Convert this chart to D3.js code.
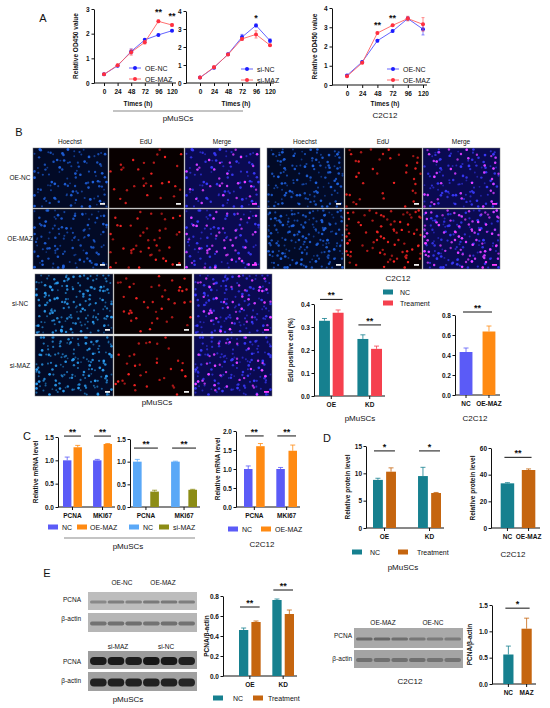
<!DOCTYPE html>
<html>
<head>
<meta charset="utf-8">
<script src="https://cdn.jsdelivr.net/npm/d3@7"></script>
<style>
  body { margin: 0; background: #fff; }
  svg { display: block; font-family: "Liberation Sans", Arial, sans-serif; }
  .axis .tick text { font-size: 6.5px; font-weight: bold; fill: #111; }
  .axis path, .axis line { stroke: #111; stroke-width: 1; }
</style>
</head>
<body>
<script>
// ---- data ----
const TIMES = [0, 24, 48, 72, 96, 120];

// A: CCK-8 growth curves
const A1_OE_NC      = [0.35, 0.70, 1.28, 1.75, 1.95, 2.12];
const A1_OE_NC_ERR  = [0.03, 0.04, 0.10, 0.05, 0.03, 0.03];
const A1_OE_MAZ     = [0.35, 0.72, 1.25, 1.65, 2.50, 2.35];
const A1_OE_MAZ_ERR = [0.03, 0.04, 0.12, 0.07, 0.05, 0.05];
const A2_SI_NC      = [0.30, 0.85, 1.60, 2.55, 3.20, 2.35];
const A2_SI_NC_ERR  = [0.03, 0.05, 0.05, 0.15, 0.08, 0.10];
const A2_SI_MAZ     = [0.30, 0.88, 1.58, 2.45, 2.70, 2.10];
const A2_SI_MAZ_ERR = [0.03, 0.08, 0.05, 0.06, 0.20, 0.05];
const A3_OE_NC      = [0.50, 1.20, 2.30, 2.80, 3.45, 2.90];
const A3_OE_NC_ERR  = [0.03, 0.04, 0.06, 0.05, 0.10, 0.30];
const A3_OE_MAZ     = [0.45, 1.15, 2.70, 3.10, 3.45, 3.15];
const A3_OE_MAZ_ERR = [0.03, 0.04, 0.05, 0.05, 0.12, 0.35];

// B: EdU imaging (cell counts per tile) and quantification
const B_PM_ROWS   = ["OE-NC", "OE-MAZ", "si-NC", "si-MAZ"];
const B_PM_NUC    = [110, 120, 170, 165];
const B_PM_EDU    = [30, 45, 42, 34];
const B_C2_NUC    = [140, 175];
const B_C2_EDU    = [38, 85];
const B_CHANNELS  = ["Hoechst", "EdU", "Merge"];
const B1_GROUPS   = ["OE", "KD"];
const B1_NC       = [0.327, 0.248];
const B1_NC_ERR   = [0.010, 0.018];
const B1_TRT      = [0.362, 0.205];
const B1_TRT_ERR  = [0.012, 0.012];
const B2_GROUPS   = ["NC", "OE-MAZ"];
const B2_VALUES   = [0.43, 0.635];
const B2_ERR      = [0.04, 0.055];

// C: qPCR
const C_GENES     = ["PCNA", "MKI67"];
const C1_NC       = [1.00, 1.00];
const C1_NC_ERR   = [0.07, 0.02];
const C1_OE       = [1.28, 1.35];
const C1_OE_ERR   = [0.04, 0.01];
const C2_NC       = [1.00, 1.00];
const C2_NC_ERR   = [0.05, 0.01];
const C2_SI       = [0.34, 0.38];
const C2_SI_ERR   = [0.03, 0.01];
const C3_NC       = [1.00, 1.00];
const C3_NC_ERR   = [0.08, 0.04];
const C3_OE       = [1.60, 1.48];
const C3_OE_ERR   = [0.07, 0.15];

// D: protein level
const D1_GROUPS   = ["OE", "KD"];
const D1_NC       = [8.8, 9.5];
const D1_NC_ERR   = [0.3, 1.6];
const D1_TRT      = [10.3, 6.4];
const D1_TRT_ERR  = [0.7, 0.1];
const D2_GROUPS   = ["NC", "OE-MAZ"];
const D2_VALUES   = [33.5, 43.5];
const D2_ERR      = [0.5, 0.8];

// E: western blots (band intensity per lane) and quantification
const E_PM_TOP_LANES   = ["OE-NC", "OE-MAZ"];
const E_PM_BOT_LANES   = ["si-MAZ", "si-NC"];
const E_C2_LANES       = ["OE-MAZ", "OE-NC"];
const E_PM_TOP_PCNA    = [0.55, 0.65, 0.62, 0.70, 0.72, 0.66];
const E_PM_TOP_ACTIN   = [0.70, 0.72, 0.74, 0.70, 0.72, 0.70];
const E_PM_BOT_PCNA    = [0.95, 0.95, 0.92, 0.98, 0.96, 0.90];
const E_PM_BOT_ACTIN   = [0.95, 0.95, 0.95, 0.95, 0.95, 0.92];
const E_C2_PCNA        = [0.70, 0.72, 0.65, 0.55, 0.50, 0.50];
const E_C2_ACTIN       = [0.65, 0.65, 0.65, 0.68, 0.62, 0.62];
const E1_GROUPS   = ["OE", "KD"];
const E1_NC       = [0.46, 0.76];
const E1_NC_ERR   = [0.02, 0.01];
const E1_TRT      = [0.54, 0.62];
const E1_TRT_ERR  = [0.01, 0.04];
const E2_GROUPS   = ["NC", "MAZ"];
const E2_VALUES   = [0.56, 1.05];
const E2_ERR      = [0.16, 0.20];

// ---- colours ----
const BLUE = "#1c1cff", RED = "#ff2f3f";
const TEAL = "#16808f", TOMATO = "#f5404e", PERI = "#5b5bf7", ORANGE = "#ff8a12";
const SKY = "#5aa8f7", OLIVE = "#8c8c15", RUST = "#c5650f";

const svg = d3.select("body").append("svg")
  .attr("width", 550).attr("height", 708)
  .attr("viewBox", [0, 0, 550, 708]);

const txt = (x, y, s, o = {}) => svg.append("text")
  .attr("x", x).attr("y", y)
  .attr("text-anchor", o.anchor || "middle")
  .attr("font-size", o.size || 6.5)
  .attr("font-weight", o.bold ? "bold" : "normal")
  .attr("fill", "#111")
  .text(s);

const vtxt = (x, y, s) => svg.append("text")
  .attr("transform", `translate(${x},${y}) rotate(-90)`)
  .attr("text-anchor", "middle")
  .attr("font-size", 6.5)
  .attr("font-weight", "bold")
  .attr("fill", "#111")
  .text(s);

const hline = (x1, x2, y, color = "#111", w = 1) => svg.append("line")
  .attr("x1", x1).attr("x2", x2).attr("y1", y).attr("y2", y)
  .attr("stroke", color).attr("stroke-width", w);

// ---- line chart (panel A) ----
const lineChart = o => {
  const x = d3.scaleLinear().domain([0, 120]).range(o.xr);
  const y = d3.scaleLinear().domain([0, o.yMax]).range(o.yr);
  const g = svg.append("g");

  g.append("g").attr("class", "axis")
    .attr("transform", `translate(${o.axisX},0)`)
    .call(d3.axisLeft(y).ticks(o.yMax).tickFormat(d3.format("d"))
      .tickSize(2.5).tickPadding(2).tickSizeOuter(0));
  const xa = g.append("g").attr("class", "axis")
    .attr("transform", `translate(0,${o.yr[0]})`)
    .call(d3.axisBottom(x).tickValues(TIMES).tickSize(3).tickSizeOuter(0));
  xa.select(".domain").remove();
  xa.append("line").attr("x1", o.axisX).attr("x2", o.xr[1] + 4);

  o.series.forEach(s => {
    const pts = TIMES.map((t, i) => ({ t, v: s.values[i], e: s.errs[i] }));
    g.append("path").datum(pts)
      .attr("fill", "none").attr("stroke", s.line).attr("stroke-width", 0.9)
      .attr("d", d3.line().x(d => x(d.t)).y(d => y(d.v)));
    g.append("g").selectAll("path").data(pts).join("path")
      .attr("fill", "none").attr("stroke", s.line).attr("stroke-width", 0.7)
      .attr("d", d => `M${x(d.t) - 1.5},${y(d.v + d.e)}h3M${x(d.t)},${y(d.v + d.e)}V${y(d.v - d.e)}M${x(d.t) - 1.5},${y(d.v - d.e)}h3`);
    g.append("g").selectAll("circle").data(pts).join("circle")
      .attr("cx", d => x(d.t)).attr("cy", d => y(d.v)).attr("r", 2)
      .attr("fill", s.color);
  });

  o.series.forEach((s, i) => {
    const ly = o.legend.y + i * o.legend.dy;
    g.append("line").attr("x1", o.legend.x - 6).attr("x2", o.legend.x + 6)
      .attr("y1", ly).attr("y2", ly).attr("stroke", s.line).attr("stroke-width", 0.9);
    g.append("circle").attr("cx", o.legend.x).attr("cy", ly).attr("r", 2).attr("fill", s.color);
    txt(o.legend.x + 10, ly + 2.5, s.name, { anchor: "start", size: 7 });
  });

  o.sig.forEach(s => txt(x(s.t), y(s.v) + 3, s.text, { size: 9, bold: true }));
  txt(o.xlabel[0], o.xlabel[1], "Times (h)", { bold: true });
  if (o.ylabel) vtxt(o.ylabel, (o.yr[0] + o.yr[1]) / 2, "Relative OD450 value");
};

// ---- bar chart (panels B-E) ----
const barChart = o => {
  const y = d3.scaleLinear().domain([0, o.yMax]).range([o.y0, o.yTop]);
  const x = d3.scaleBand().domain(o.groups).range(o.xr).paddingInner(o.pad).paddingOuter(0);
  const sub = d3.scaleBand().domain(o.series.map(s => s.name))
    .range([0, x.bandwidth()]).paddingInner(o.subPad ?? 0.2);
  const g = svg.append("g");

  g.append("g").attr("class", "axis")
    .attr("transform", `translate(${o.axisX},0)`)
    .call(d3.axisLeft(y).tickValues(o.ticks).tickFormat(d3.format(o.fmt))
      .tickSize(2.5).tickPadding(1.5).tickSizeOuter(0));
  const xa = g.append("g").attr("class", "axis").attr("transform", `translate(0,${o.y0})`);
  xa.append("line").attr("x1", o.axisX).attr("x2", o.xr[1] + 3);
  o.groups.forEach(gr => {
    const cx = x(gr) + x.bandwidth() / 2;
    xa.append("line").attr("x1", cx).attr("x2", cx).attr("y1", 0).attr("y2", 3);
  });
  o.groups.forEach(gr => txt(x(gr) + x.bandwidth() / 2, o.y0 + 11, gr, { bold: true }));

  o.series.forEach(s => {
    const rows = o.groups.map((gr, i) => ({
      gr, v: s.values[i], e: s.errs[i],
      c: s.colors ? s.colors[i] : s.color
    }));
    const bx = d => x(d.gr) + sub(s.name);
    const bw = sub.bandwidth();
    g.append("g").selectAll("path").data(rows).join("path")
      .attr("fill", "none").attr("stroke", d => d.c).attr("stroke-width", 0.8)
      .attr("d", d => `M${bx(d) + bw / 2},${y(d.v)}V${y(d.v + d.e)}M${bx(d) + bw / 2 - 2.5},${y(d.v + d.e)}h5`);
    g.append("g").selectAll("rect").data(rows).join("rect")
      .attr("x", bx).attr("width", bw)
      .attr("y", d => y(d.v)).attr("height", d => o.y0 - y(d.v))
      .attr("fill", d => d.c);
  });

  o.sig.forEach(s => {
    let x1, x2;
    if (s.g1) {
      x1 = x(s.g0) + x.bandwidth() / 2 - 3;
      x2 = x(s.g1) + x.bandwidth() / 2 + 3;
    } else {
      x1 = x(s.g0) + 1;
      x2 = x(s.g0) + x.bandwidth() - 1;
    }
    hline(x1, x2, y(s.v));
    txt((x1 + x2) / 2, y(s.v) - 1, s.text, { size: 9, bold: true });
  });

  if (o.ylabel) vtxt(o.ylabel[0], (o.y0 + o.yTop) / 2 + (o.ylabel[2] || 0), o.ylabel[1]);
  if (o.legend) o.legend.forEach((p, i) => {
    const s = o.series[i];
    svg.append("rect").attr("x", p[0]).attr("y", p[1] - 2.5).attr("width", 10).attr("height", 5)
      .attr("fill", s.color);
    txt(p[0] + p[2], p[1] + 2.5, s.name, { anchor: "start", size: 7 });
  });
};

// ---- microscopy tiles (panel B) ----
// texture only: a low-discrepancy spread of nuclei with a hashed jitter
const R2X = 0.7548776662, R2Y = 0.5698402910;
const hash = (i, s) => { const v = Math.sin(i * 127.1 + s * 311.7) * 43758.5453; return v - Math.floor(v); };
const tile = (x0, y0, w, h, kind, nNuc, nEdu, seed, bright) => {
  const bg = { Hoechst: "#020a26", EdU: "#080000", Merge: "#0a0a52" }[kind];
  svg.append("rect").attr("x", x0).attr("y", y0).attr("width", w).attr("height", h)
    .attr("fill", bg).attr("stroke", "#777").attr("stroke-width", 0.5);
  const cell = Math.sqrt(w * h / nNuc);
  const nuc = d3.range(nNuc).map(i => ({
    i,
    px: Math.max(x0 + 1.5, Math.min(x0 + w - 1.5,
      x0 + w * ((seed * 0.37 + 0.5 + i * R2X) % 1) + (hash(i, seed) - 0.5) * cell * 1.4)),
    py: Math.max(y0 + 1.5, Math.min(y0 + h - 1.5,
      y0 + h * ((seed * 0.61 + 0.5 + i * R2Y) % 1) + (hash(i + 911, seed) - 0.5) * cell * 1.4)),
    a: hash(i + 333, seed)
  }));
  const step = nNuc / nEdu;
  const edu = d3.range(nEdu).map(k => nuc[Math.min(nNuc - 1, Math.floor(k * step + hash(k, seed + 5) * step))]);
  const blue = bright ? "#2a9df2" : "#1f62e0";
  if (kind !== "EdU") {
    svg.append("g").selectAll("circle").data(nuc).join("circle")
      .attr("cx", d => d.px).attr("cy", d => d.py).attr("r", d => 0.9 + d.a * 0.5)
      .attr("fill", kind === "Merge" ? "#3a3aff" : blue)
      .attr("opacity", d => 0.45 + 0.55 * d.a);
  }
  if (kind !== "Hoechst") {
    svg.append("g").selectAll("circle").data(edu).join("circle")
      .attr("cx", d => d.px).attr("cy", d => d.py).attr("r", 1.2)
      .attr("fill", kind === "Merge" ? "#ff3cff" : "#ff2424")
      .attr("opacity", d => 0.55 + 0.45 * d.a);
  }
  svg.append("rect").attr("x", x0 + w - 8).attr("y", y0 + h - 5).attr("width", 5).attr("height", 1.8)
    .attr("fill", kind === "Merge" ? "#ff3cff" : "#eee");
};

// ---- blots (panel E) ----
const blot = (x0, y0, w, h, bg, band, bandH, lanes) => {
  svg.append("rect").attr("x", x0).attr("y", y0).attr("width", w).attr("height", h).attr("fill", bg);
  const lx = d3.scaleBand().domain(d3.range(lanes.length)).range([x0 + 2, x0 + w - 2]).paddingInner(0.06);
  svg.append("g").selectAll("rect").data(lanes).join("rect")
    .attr("x", (_, i) => lx(i)).attr("width", lx.bandwidth())
    .attr("y", y0 + h / 2 - bandH / 2 + 1).attr("height", bandH)
    .attr("rx", bandH / 2).attr("fill", band).attr("opacity", d => d);
};

// ================= Panel A =================
txt(43, 22, "A", { size: 11 });
lineChart({
  axisX: 94, xr: [104, 172], yr: [83, 9], yMax: 3,
  series: [
    { name: "OE-NC", values: A1_OE_NC, errs: A1_OE_NC_ERR, color: BLUE, line: "#5252ff" },
    { name: "OE-MAZ", values: A1_OE_MAZ, errs: A1_OE_MAZ_ERR, color: RED, line: "#ff6060" }
  ],
  sig: [{ t: 96, v: 2.87, text: "**" }, { t: 120, v: 2.72, text: "**" }],
  legend: { x: 135, y: 68, dy: 11 },
  xlabel: [138, 106], ylabel: 78
});
lineChart({
  axisX: 186, xr: [200, 270], yr: [83, 11], yMax: 4,
  series: [
    { name: "si-NC", values: A2_SI_NC, errs: A2_SI_NC_ERR, color: BLUE, line: "#5252ff" },
    { name: "si-MAZ", values: A2_SI_MAZ, errs: A2_SI_MAZ_ERR, color: RED, line: "#ff6060" }
  ],
  sig: [{ t: 96, v: 3.6, text: "*" }],
  legend: { x: 247, y: 69, dy: 11 },
  xlabel: [236, 106]
});
lineChart({
  axisX: 332, xr: [347, 423], yr: [85, 8], yMax: 4,
  series: [
    { name: "OE-NC", values: A3_OE_NC, errs: A3_OE_NC_ERR, color: BLUE, line: "#5252ff" },
    { name: "OE-MAZ", values: A3_OE_MAZ, errs: A3_OE_MAZ_ERR, color: RED, line: "#ff6060" }
  ],
  sig: [{ t: 48, v: 3.12, text: "**" }, { t: 72, v: 3.5, text: "**" }],
  legend: { x: 393, y: 69, dy: 11 },
  xlabel: [385, 106], ylabel: 317
});
hline(113, 243, 111, "#b0b0b0", 1.5);
txt(178, 121, "pMuSCs", { size: 8 });
txt(385, 118, "C2C12", { size: 8 });

// ================= Panel B =================
txt(19, 136, "B", { size: 11 });
const colsTop = [33, 109, 185], colsBot = [35, 114, 194], colsC2 = [267, 345, 423];
B_CHANNELS.forEach((c, j) => {
  txt(colsTop[j] + 37, 144, c);
  txt(colsC2[j] + 38, 144, c);
});
B_PM_ROWS.forEach((r, i) => {
  const top = i < 2;
  const ry = top ? [148, 209][i] : [274, 336][i - 2];
  const cols = top ? colsTop : colsBot;
  const w = top ? 75 : 78;
  txt(20, ry + 32, r);
  B_CHANNELS.forEach((c, j) => tile(cols[j], ry, w, 60, c, B_PM_NUC[i], B_PM_EDU[i], i + 1, !top));
});
[0, 1].forEach(i => {
  B_CHANNELS.forEach((c, j) => tile(colsC2[j], [148, 209][i], 77, 60, c, B_C2_NUC[i], B_C2_EDU[i], i + 7, false));
});
txt(398, 281, "C2C12", { size: 8 });
txt(157, 405, "pMuSCs", { size: 8 });

barChart({
  axisX: 314, y0: 396, yTop: 304, yMax: 0.4, ticks: [0, 0.1, 0.2, 0.3, 0.4], fmt: ".1f",
  groups: B1_GROUPS, xr: [319, 382], pad: 0.36, subPad: 0.2,
  series: [
    { name: "NC", values: B1_NC, errs: B1_NC_ERR, color: TEAL },
    { name: "Treament", values: B1_TRT, errs: B1_TRT_ERR, color: TOMATO }
  ],
  sig: [{ g0: "OE", v: 0.42, text: "**" }, { g0: "KD", v: 0.309, text: "**" }],
  ylabel: [293, "EdU positive cell (%)"],
  legend: [[383, 292, 17], [383, 303, 17]]
});
txt(360, 421, "pMuSCs", { size: 8 });
barChart({
  axisX: 455, y0: 395, yTop: 315, yMax: 0.8, ticks: [0, 0.2, 0.4, 0.6, 0.8], fmt: ".1f",
  groups: B2_GROUPS, xr: [458, 497], pad: 0.3,
  series: [{ name: "v", values: B2_VALUES, errs: B2_ERR, colors: [PERI, ORANGE] }],
  sig: [{ g0: "NC", g1: "OE-MAZ", v: 0.83, text: "**" }]
});
txt(475, 421, "C2C12", { size: 8 });

// ================= Panel C =================
txt(27, 440, "C", { size: 11 });
barChart({
  axisX: 58, y0: 507, yTop: 437, yMax: 1.5, ticks: [0, 0.5, 1, 1.5], fmt: ".1f",
  groups: C_GENES, xr: [63, 112], pad: 0.37, subPad: 0.2,
  series: [
    { name: "NC", values: C1_NC, errs: C1_NC_ERR, color: PERI },
    { name: "OE-MAZ", values: C1_OE, errs: C1_OE_ERR, color: ORANGE }
  ],
  sig: [{ g0: "PCNA", v: 1.52, text: "**" }, { g0: "MKI67", v: 1.52, text: "**" }],
  ylabel: [38, "Relative mRNA level"],
  legend: [[48, 527, 14], [77, 527, 13]]
});
barChart({
  axisX: 130, y0: 507, yTop: 439, yMax: 1.5, ticks: [0, 0.5, 1, 1.5], fmt: ".1f",
  groups: C_GENES, xr: [133, 197], pad: 0.32, subPad: 0.5,
  series: [
    { name: "NC", values: C2_NC, errs: C2_NC_ERR, color: SKY },
    { name: "si-MAZ", values: C2_SI, errs: C2_SI_ERR, color: OLIVE }
  ],
  sig: [{ g0: "PCNA", v: 1.30, text: "**" }, { g0: "MKI67", v: 1.30, text: "**" }],
  legend: [[129, 527, 14], [159, 527, 14]]
});
hline(64, 195, 538, "#b0b0b0", 1.5);
txt(128, 549, "pMuSCs", { size: 8 });
barChart({
  axisX: 236, y0: 507, yTop: 431, yMax: 2, ticks: [0, 0.5, 1, 1.5, 2], fmt: ".1f",
  groups: C_GENES, xr: [244, 297], pad: 0.36, subPad: 0.3,
  series: [
    { name: "NC", values: C3_NC, errs: C3_NC_ERR, color: PERI },
    { name: "OE-MAZ", values: C3_OE, errs: C3_OE_ERR, color: ORANGE }
  ],
  sig: [{ g0: "PCNA", v: 1.87, text: "**" }, { g0: "MKI67", v: 1.87, text: "**" }],
  ylabel: [220, "Relative mRNA level"],
  legend: [[228, 529, 14], [261, 529, 14]]
});
txt(262, 547, "C2C12", { size: 8 });

// ================= Panel D =================
txt(327, 442, "D", { size: 11 });
barChart({
  axisX: 366, y0: 528, yTop: 446, yMax: 15, ticks: [0, 5, 10, 15], fmt: "d",
  groups: D1_GROUPS, xr: [373, 441], pad: 0.49, subPad: 0.25,
  series: [
    { name: "NC", values: D1_NC, errs: D1_NC_ERR, color: TEAL },
    { name: "Treatment", values: D1_TRT, errs: D1_TRT_ERR, color: RUST }
  ],
  sig: [{ g0: "OE", v: 14.1, text: "*" }, { g0: "KD", v: 14.1, text: "*" }],
  ylabel: [350, "Relative protein level"],
  legend: [[352, 552, 18], [398, 552, 19]]
});
txt(403, 570, "pMuSCs", { size: 8 });
barChart({
  axisX: 491, y0: 528, yTop: 448, yMax: 60, ticks: [0, 20, 40, 60], fmt: "d",
  groups: D2_GROUPS, xr: [499, 537], pad: 0.2,
  series: [{ name: "v", values: D2_VALUES, errs: D2_ERR, colors: [TEAL, RUST] }],
  sig: [{ g0: "NC", g1: "OE-MAZ", v: 53, text: "**" }],
  ylabel: [475, "Relative protein level"]
});
txt(513, 557, "C2C12", { size: 8 });

// ================= Panel E =================
txt(47, 577, "E", { size: 11 });
E_PM_TOP_LANES.forEach((l, i) => txt([122, 163][i], 585, l));
blot(88, 592, 109, 18, "#bdbdbd", "#5e5e5e", 3, E_PM_TOP_PCNA);
blot(88, 613, 109, 19, "#b6b6b6", "#555", 4, E_PM_TOP_ACTIN);
txt(81, 602, "PCNA", { anchor: "end" });
txt(81, 621, "β-actin", { anchor: "end" });
E_PM_BOT_LANES.forEach((l, i) => txt([118, 166][i], 649, l));
blot(88, 651, 109, 18, "#9c9c9c", "#141414", 8, E_PM_BOT_PCNA);
blot(88, 672, 109, 19, "#a0a0a0", "#1a1a1a", 8, E_PM_BOT_ACTIN);
txt(81, 664, "PCNA", { anchor: "end" });
txt(81, 683, "β-actin", { anchor: "end" });
txt(128, 702, "pMuSCs", { size: 8 });

barChart({
  axisX: 223, y0: 676, yTop: 596, yMax: 0.8, ticks: [0, 0.2, 0.4, 0.6, 0.8], fmt: ".1f",
  groups: E1_GROUPS, xr: [239, 294], pad: 0.35, subPad: 0.25,
  series: [
    { name: "NC", values: E1_NC, errs: E1_NC_ERR, color: TEAL },
    { name: "Treatment", values: E1_TRT, errs: E1_TRT_ERR, color: RUST }
  ],
  sig: [{ g0: "OE", v: 0.69, text: "**" }, { g0: "KD", v: 0.86, text: "**" }],
  ylabel: [209, "PCNA/β-actin"],
  legend: [[213, 698, 20], [253, 698, 15]]
});

E_C2_LANES.forEach((l, i) => txt([383, 433][i], 625, l));
blot(354, 628, 109, 20, "#a9a9a9", "#4e4e4e", 3, E_C2_PCNA);
blot(354, 650, 109, 18, "#a4a4a4", "#555", 4, E_C2_ACTIN);
txt(352, 638, "PCNA", { anchor: "end" });
txt(352, 661, "β-actin", { anchor: "end" });
txt(410, 684, "C2C12", { size: 8 });

barChart({
  axisX: 492, y0: 684, yTop: 605, yMax: 1.5, ticks: [0, 0.5, 1, 1.5], fmt: ".1f",
  groups: E2_GROUPS, xr: [502, 533], pad: 0.3,
  series: [{ name: "v", values: E2_VALUES, errs: E2_ERR, colors: [TEAL, RUST] }],
  sig: [{ g0: "NC", g1: "MAZ", v: 1.44, text: "*" }],
  ylabel: [472, "PCNA/β-actin"]
});
</script>
</body>
</html>
